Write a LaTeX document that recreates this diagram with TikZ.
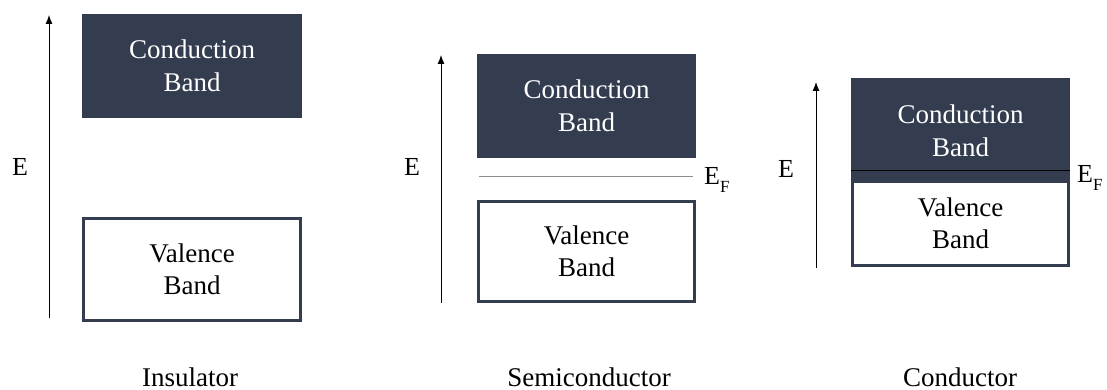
\documentclass[tikz,border=0pt]{standalone}
\usepackage{fontspec}
\setmainfont{Liberation Serif}
\usetikzlibrary{arrows.meta}
\definecolor{bandnavy}{HTML}{333D4F}
\definecolor{fermigray}{HTML}{8C8C8C}
\newcommand{\bandfont}{\fontsize{27}{32.5}\selectfont}
\newcommand{\Efermi}{E\raisebox{-0.28em}{\fontsize{17}{17}\selectfont F}}
\tikzset{
  cband/.style={fill=bandnavy, draw=none, text=white, align=center, inner sep=0pt, font=\bandfont},
  vband/.style={draw=bandnavy, line width=3pt, fill=white, text=black, align=center, inner sep=0pt, font=\bandfont},
  axis/.style={draw=black, line width=0.9pt, -{Latex[length=9pt,width=7pt]}},
  lbl/.style={inner sep=0pt, font=\bandfont},
  elbl/.style={inner sep=0pt, font=\fontsize{26}{30}\selectfont},
}
\begin{document}
\begin{tikzpicture}[x=1pt, y=-1pt]
\useasboundingbox (0,0) rectangle (1107,390);
% ---------- Insulator ----------
\coordinate (a1s) at (49,318);
\coordinate (a1e) at (49,15);
\draw[axis] (a1s) -- (a1e);
\node[elbl] (e1) at (20,167) {E};
\node[cband, minimum width=220pt, minimum height=104pt] (cb1) at (192,66) {Conduction\\Band};
\node[vband, minimum width=217pt, minimum height=102pt] (vb1) at (192,269.5) {Valence\\Band};
\node[lbl, anchor=base] (t1) at (190,386) {Insulator};
% ---------- Semiconductor ----------
\coordinate (a2s) at (441,303);
\coordinate (a2e) at (441,55);
\draw[axis] (a2s) -- (a2e);
\node[elbl] (e2) at (412,167) {E};
\node[cband, minimum width=219pt, minimum height=104pt] (cb2) at (586.5,106) {Conduction\\Band};
\node[vband, minimum width=216pt, minimum height=100pt] (vb2) at (586.5,251.5) {Valence\\Band};
\coordinate (f2s) at (479,177);
\coordinate (f2e) at (693,177);
\draw[fermigray, line width=1pt] (f2s) -- (f2e);
\node[elbl, anchor=west] (ef2) at (704,180) {\Efermi};
\node[lbl, anchor=base] (t2) at (589,386) {Semiconductor};
% ---------- Conductor ----------
\coordinate (a3s) at (816,268);
\coordinate (a3e) at (816,82);
\draw[axis] (a3s) -- (a3e);
\node[elbl] (e3) at (786,169) {E};
\node[cband, minimum width=219pt, minimum height=105pt, text depth=0pt] (cb3) at (960.5,130.5) {Conduction\\Band};
\node[vband, minimum width=216pt, minimum height=84pt] (vb3) at (960.5,223.5) {Valence\\Band};
\coordinate (f3s) at (851,171);
\coordinate (f3e) at (1070,171);
\draw[black, line width=1pt] (f3s) -- (f3e);
\node[elbl, anchor=west] (ef3) at (1077,178) {\Efermi};
\node[lbl, anchor=base] (t3) at (960,386) {Conductor};
\end{tikzpicture}
\end{document}
